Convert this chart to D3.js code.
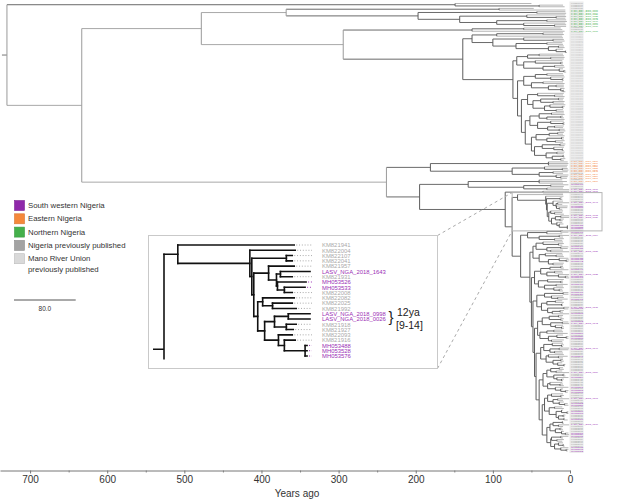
<!DOCTYPE html>
<html>
<head>
<meta charset="utf-8">
<script src="https://cdn.jsdelivr.net/npm/d3@7"></script>
<style>
  html, body { margin: 0; padding: 0; background: #ffffff; }
  svg { display: block; font-family: "Liberation Sans", Arial, Helvetica, sans-serif; }
</style>
</head>
<body>
<svg id="chart" width="626" height="500"></svg>
<script>
// ===================== DATA =====================
// Tip token = region code + years ago (e.g. "m8"); explicit names are written "NAME@code".
// Internal node = "(children)" followed by the node age in years ago.
const regionCodes    = ["s", "S", "e", "n", "g", "m"];
const regionColors   = ["#9b2fb5", "#9b2fb5", "#f5883b", "#44b04b", "#a9a9a9", "#cfcfcf"];
const autoLabelStems = ["MH05", "LASV_NGA_2018_", "LASV_NGA_2019_", "LASV_NGA_2017_", "KM82", "KF47"];
const autoLabelFirst = [3400, 100, 200, 300, 1900, 8200];

const legendLabels = ["South western Nigeria", "Eastern Nigeria", "Northern Nigeria",
                      "Nigeria previously published", "Mano River Union|previously published"];
const legendColors = ["#8f28aa", "#f5883b", "#44b04b", "#a3a3a3", "#d9d9d9"];

const axisTicks     = [0, 100, 200, 300, 400, 500, 600, 700];
const minorTicks    = [50, 150, 250, 350, 450, 550, 650];
const axisTitle     = "Years ago";
const scaleBarYears = 80;
const scaleBarLabel = "80.0";

const annotatedTips   = ["LASV_NGA_2018_0998", "LASV_NGA_2018_0026"];
const annotationLines = ["12ya", "[9-14]"];

// ---- clades ----
const lineageI    = "(g50,(g9,g7)40)149";
const lineageIII  = "((g47,n6)92,((n6,n5)43,((n6,(n5,n6)18)56,((n5,n4)30,(n6,(n5,n5)20)60)95)143)197)368";
const sisterIV    = "((g12,g10)60,n7)127";
const lineageIVa  = "(((m9,m8)35,m10)95,((m9,(m8,m7)22)60,((m10,m9)30,((m8,m7)15,(m9,(m5,m4)6)18)28)70)100)127";
const lineageIVb1 = "(((m9,m8)40,(m7,m8)25)55,((m10,(m9,m9)12)45,((m8,m7)20,(m9,(m6,m5)8)14)35)60)69";
const lineageIVb2 = "(((m9,m8)30,(m7,(m8,m8)10)25)45,((m9,m7)35,((m8,m8)18,(m7,(m8,m6)9)12)28)50)60";
const lineageIVb3 = "((m8,(m9,m7)20)42,(((m8,m9)15,(m7,m8)22)38,((m6,(m7,m8)10)26,(m9,m8)18)33)48)55";
const lineageIVb4 = "(((m8,m7)24,((m9,m8)12,m7)30)40,((m8,(m7,m7)9)25,((m8,m9)20,(m7,m6)14)29)42)52";
const lineageIVb5 = "((((m8,m9)16,m7)27,((m8,m8)11,(m7,m9)19)30)44,(((m6,m7)13,(m8,(m9,m8)10)21)36,((m7,m8)17,((m8,m7)9,(m6,m8)12)23)31)46)50";
const easternClade = "((e3,e2,e3)28,((e4,(e3,e2)10)33,((e3,g9)22,(e2,(e3,e4)12)18)40)75)181";
const lineageIIp   = "((g10,e4,g9)40,((s2,g8)25,(g9,S1)30)60)132";
const lineageIIq   = "(S1,g9)35";
const insetClade   = "(KM821941@g9,(KM822004@g8.5,((KM822107@g10,KM822041@g10)13,((KM821957@g9,((LASV_NGA_2018_1643@S1,KM821931@g10)16,(MH053526@s3,(MH053533@s3.5,KM822008@g10)14)17.5)18)22,((KM822082@g9,(KM822025@g10,KM821992@g8)20)25,(((LASV_NGA_2018_0998@S1,LASV_NGA_2018_0026@S1)12,(KM821918@g8,KM821927@g9.5)13)19,(KM822093@g10,(KM821916@g8.5,(MH053488@s2.5,MH053528@s2.5,MH053576@s2.5)3.5)14)17)24)27.5)29.5)30.5)31.5)68";
const sw1 = "(((g9,s2)12,g10)30,((S1,g9)14,(g8,g10)20)40)55";
const sw2 = "(((g9,(g8,g10)15)35,((s2,s3)12,(g9,S1)25)30)44,((g10,(g9,g8)18)32,((s2,(s1,s2)5)14,(g8,g9)22)28)40)48";
const sw3 = "((((g9,g8)12,s2)26,((g10,g9)20,(S1,(s2,s1)6)15)30)38,((g8,(g9,g9)12)29,((s3,g9)18,(g8,(g10,g9)14)21)33)41)46";
const sw4 = "(((s2,s2)9,(g9,(g8,s3)16)24)33,(((g10,g8)19,(g9,g9)11)30,((S1,s2)8,((g8,g9)13,s1)23)29)37)43";
const sw5 = "((((g9,g10)15,(g8,g9)12)27,((s2,S1)10,(g9,(g8,g8)11)19)25)36,(((g10,g9)21,s3)30,((g9,(s2,s2)5)17,(g8,g10)24)28)39)42";
const sw6 = "(((g9,(g8,g9)11)23,((S1,s2)14,(g10,g9)20)26)34,((g8,(s3,g9)15)28,((g9,g8)12,(g10,(g6,g7)8)16)22)31)38";
const sw7 = "((((g9,g8)14,(g10,S1)18)25,((g7,g6)9,(s2,(g8,g9)11)17)21)30,((g10,(g9,g8)13)26,(s2,(g9,(s2,s3)6)12)19)29)35";
const sw8 = "(((g9,(g8,g10)12)24,((S1,g9)16,(g8,(s3,s2)7)14)22)29,((g10,g8)20,((g9,(s2,s2)4)11,((g6,g7)9,(g7,s3)8)15)18)27)33";
const sw9 = "((((g9,g8)10,(S1,g9)15)22,((g10,g9)13,(g8,(s2,s1)6)11)19)26,(((s2,g9)12,(g8,g10)17)24,((g9,(g8,g7)9)15,(s2,(s2,s3)5)12)20)25)30";

const lineageIV   = `(${lineageIVa},(${lineageIVb1},(${lineageIVb2},(${lineageIVb3},(${lineageIVb4},${lineageIVb5})58)63)68)74)139`;
const sisterClade = `(${sw1},(${sw2},(${sw3},(${sw4},(${sw5},(${sw6},(${sw7},(${sw8},${sw9})36)40)44)46)48)50)52)64`;
const lineageII   = `(${easternClade},(${lineageIIp},(${lineageIIq},(${insetClade},${sisterClade})75)84)195)238`;
const mainTree    = `(${lineageI},((${lineageIII},(${sisterIV},${lineageIV})294)478,${lineageII})633)730`;

// ===================== HELPERS =====================
function parseTree(str) {
  let i = 0;
  function readNumber() { const m = /^[0-9.]+/.exec(str.slice(i)); i += m[0].length; return +m[0]; }
  function readNode() {
    if (str[i] === "(") {
      i++;
      const children = [];
      for (;;) {
        children.push(readNode());
        const c = str[i++];
        if (c === ")") break;
      }
      return { children, age: readNumber() };
    }
    const m = /^[^,()]+/.exec(str.slice(i)); i += m[0].length;
    const tok = m[0], at = tok.indexOf("@");
    const name = at >= 0 ? tok.slice(0, at) : null;
    const code = at >= 0 ? tok.slice(at + 1) : tok;
    return { name, region: code[0], age: +code.slice(1) };
  }
  return readNode();
}
function layoutTree(h, xs, ys) {
  h.leaves().forEach((l, i) => { l.py = ys(i); });
  h.eachAfter(n => {
    n.px = xs(n.data.age);
    if (n.children) n.py = (n.children[0].py + n.children[n.children.length - 1].py) / 2;
  });
}
function drawTree(g, h, colorH, colorV, width, cap) {
  const nodes = h.descendants();
  g.selectAll("path.hb").data(nodes.filter(n => n.parent)).join("path").attr("class", "hb")
    .attr("d", n => `M${n.parent.px},${n.py}H${n.px}`)
    .attr("fill", "none").attr("stroke", colorH).attr("stroke-width", width).attr("stroke-linecap", cap);
  g.selectAll("path.vb").data(nodes.filter(n => n.children)).join("path").attr("class", "vb")
    .attr("d", n => `M${n.px},${n.children[0].py}V${n.children[n.children.length - 1].py}`)
    .attr("fill", "none").attr("stroke", colorV).attr("stroke-width", width).attr("stroke-linecap", cap);
}
const regionColor = code => regionColors[regionCodes.indexOf(code)];

// ===================== MAIN TREE =====================
const svg = d3.select("#chart");
const root = d3.hierarchy(parseTree(mainTree), d => d.children);
const counters = regionCodes.map(() => 0);
root.leaves().forEach(l => {
  if (!l.data.name) {
    const r = regionCodes.indexOf(l.data.region);
    l.data.name = autoLabelStems[r] + String(autoLabelFirst[r] + 7 * counters[r]++).padStart(4, "0");
  }
});
const nLeaves = root.leaves().length;
const xMain = d3.scaleLinear().domain([739, 0]).range([0, 570]);
const yMain = d3.scaleLinear().domain([0, nLeaves - 1]).range([3.5, 451]);
layoutTree(root, xMain, yMain);

const gMain = svg.append("g");
gMain.append("path").attr("d", `M${root.px - 5},${root.py}H${root.px}`)
  .attr("stroke", "#777").attr("stroke-width", 1);
drawTree(gMain, root,
  n => n.children ? (n.data.age > 200 ? "#a8a8a8" : "#6a6a6a") : "#b6b6b6",
  n => n.data.age > 200 ? "#9a9a9a" : "#5c5c5c", 1, "butt");

// tip label strip + tiny labels (stretched horizontally like the reference)
svg.append("rect").attr("x", 569.5).attr("y", 1.5).attr("width", 14).attr("height", 451.5).attr("fill", "#ececec");
svg.append("g").selectAll("text").data(root.leaves()).join("text")
  .attr("x", 571).attr("y", d => d.py).attr("dominant-baseline", "central")
  .attr("font-size", 1.5).attr("fill", d => regionColor(d.data.region))
  .attr("textLength", d => d.data.name.length * 1.5).attr("lengthAdjust", "spacingAndGlyphs")
  .text(d => d.data.name);

// locate highlighted clade
const leafA = root.leaves().find(l => l.data.name === "KM821941");
const leafB = root.leaves().find(l => l.data.name === "MH053576");
const pathAB = leafA.path(leafB);
const cladeA = pathAB.reduce((a, b) => (b.depth < a.depth ? b : a));
const cladeR = cladeA.parent;
const aLeaves = cladeA.leaves();
const hx0 = cladeR.px, hy0 = aLeaves[0].py - 2, hy1 = aLeaves[aLeaves.length - 1].py + 2;
svg.append("rect").attr("x", hx0).attr("y", hy0).attr("width", 602 - hx0).attr("height", hy1 - hy0)
  .attr("fill", "none").attr("stroke", "#b5b5b5").attr("stroke-width", 1);

// connectors
const inset = { x: 148.5, y: 235.5, w: 289, h: 133 };
svg.append("line").attr("x1", inset.x + inset.w).attr("y1", inset.y).attr("x2", hx0).attr("y2", hy0)
  .attr("stroke", "#aaa").attr("stroke-dasharray", "3,3");
svg.append("line").attr("x1", inset.x + inset.w).attr("y1", inset.y + inset.h).attr("x2", hx0).attr("y2", hy1)
  .attr("stroke", "#aaa").attr("stroke-dasharray", "3,3");

// ===================== INSET =====================
svg.append("rect").attr("x", inset.x).attr("y", inset.y).attr("width", inset.w).attr("height", inset.h)
  .attr("fill", "#fff").attr("stroke", "#c9c9c9").attr("stroke-width", 1);
const clip = { x: 153, y: 238, w: 284, h: 121.5 };
svg.append("clipPath").attr("id", "insetClip").append("rect")
  .attr("x", clip.x).attr("y", clip.y).attr("width", clip.w).attr("height", clip.h);
const insetRoot = d3.hierarchy(cladeR.data, d => d.children);
const xInset = d3.scaleLinear().domain([cladeR.data.age, 0]).range([164, 312]);
const yInset = d3.scaleLinear().domain([0, 21]).range([245, 356]);
layoutTree(insetRoot, xInset, yInset);
const gIn = svg.append("g").attr("clip-path", "url(#insetClip)");
gIn.append("path").attr("d", `M${xInset(cladeR.parent.data.age)},${insetRoot.py}H${insetRoot.px}`)
  .attr("stroke", "#111").attr("stroke-width", 1.6).attr("fill", "none");
drawTree(gIn, insetRoot, "#111", "#111", 1.6, "square");
gIn.selectAll("path.hb").filter(n => n.py > clip.y + clip.h + 2).remove();
gIn.selectAll("path.vb").filter(n => n.children[0].py > clip.y + clip.h + 2).remove();
const inLeaves = insetRoot.leaves().filter(l => l.py <= clip.y + clip.h);
gIn.selectAll("line.dot").data(inLeaves).join("line").attr("class", "dot")
  .attr("x1", d => d.px + 2).attr("x2", 312).attr("y1", d => d.py).attr("y2", d => d.py)
  .attr("stroke", d => regionColor(d.data.region)).attr("stroke-width", 1).attr("stroke-dasharray", "1,1.8");
gIn.selectAll("text.lab").data(inLeaves).join("text").attr("class", "lab")
  .attr("x", 322).attr("y", d => d.py + 0.3).attr("dominant-baseline", "central")
  .attr("font-size", 5.9).attr("fill", d => regionColor(d.data.region)).text(d => d.data.name);

// annotation
const annLeaves = inLeaves.filter(l => annotatedTips.includes(l.data.name));
const annY = d3.mean(annLeaves, l => l.py);
svg.append("text").attr("x", 388.5).attr("y", annY).attr("dominant-baseline", "central")
  .attr("font-size", 15).attr("fill", "#222").text("}");
svg.append("text").attr("x", 397).attr("y", annY - 4.5).attr("dominant-baseline", "central")
  .attr("font-size", 10.5).attr("fill", "#222").text(annotationLines[0]);
svg.append("text").attr("x", 396).attr("y", annY + 9).attr("dominant-baseline", "central")
  .attr("font-size", 10.5).attr("fill", "#222").text(annotationLines[1]);

// ===================== LEGEND =====================
const gLeg = svg.append("g");
legendLabels.forEach((lab, i) => {
  const cy = 205.5 + 13.3 * i;
  gLeg.append("rect").attr("x", 14.5).attr("y", cy - 5).attr("width", 10).attr("height", 10)
    .attr("fill", legendColors[i]).attr("stroke", d3.color(legendColors[i]).darker(0.4)).attr("stroke-width", 0.6);
  lab.split("|").forEach((line, j) => {
    gLeg.append("text").attr("x", 28).attr("y", cy + j * 10.5).attr("dominant-baseline", "central")
      .attr("font-size", 7.8).attr("fill", "#333").text(line);
  });
});

// scale bar
const sbW = xMain(0) - xMain(scaleBarYears);
svg.append("line").attr("x1", 14).attr("x2", 14 + sbW).attr("y1", 300).attr("y2", 300)
  .attr("stroke", "#555").attr("stroke-width", 1);
svg.append("text").attr("x", 14 + sbW / 2).attr("y", 308.5).attr("text-anchor", "middle")
  .attr("dominant-baseline", "central").attr("font-size", 6.5).attr("fill", "#333").text(scaleBarLabel);

// ===================== AXIS =====================
const gMin = svg.append("g").attr("transform", "translate(0,470.5)");
gMin.call(d3.axisBottom(xMain).tickValues(minorTicks).tickSize(2).tickFormat(""));
gMin.select(".domain").remove();
gMin.selectAll(".tick text").remove();
gMin.selectAll(".tick line").attr("stroke", "#888");
const gAx = svg.append("g").attr("transform", "translate(0,470.5)");
gAx.call(d3.axisBottom(xMain).tickValues(axisTicks).tickSize(3).tickSizeOuter(0).tickPadding(2));
gAx.select(".domain").attr("stroke", "#777");
gAx.selectAll(".tick line").attr("stroke", "#777");
gAx.selectAll(".tick text").attr("font-size", 10).attr("fill", "#333")
  .attr("font-family", "\"Liberation Sans\", Arial, sans-serif");
svg.append("text").attr("x", 297).attr("y", 497).attr("text-anchor", "middle")
  .attr("font-size", 10).attr("fill", "#333").text(axisTitle);
</script>
</body>
</html>
